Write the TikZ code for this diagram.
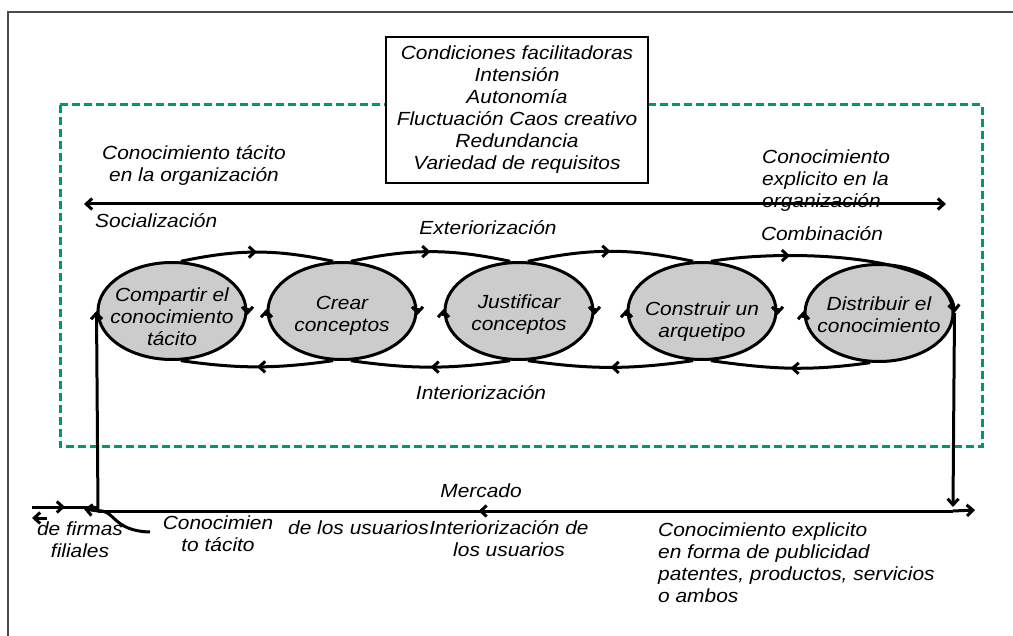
\documentclass[tikz,border=0pt]{standalone}
\usepackage{fontspec}
\setmainfont{Liberation Sans}[FakeStretch=1.1]
\usetikzlibrary{shapes.geometric,arrows.meta,decorations.markings}
\definecolor{orggreen}{RGB}{0,150,110}
\begin{document}
\begin{tikzpicture}[x=1pt,y=1pt,
    txt/.style={font=\fontsize{19}{22}\selectfont\itshape, inner sep=0pt},
    stage/.style={ellipse, draw, line width=3pt, fill=gray!40, minimum width=148pt, minimum height=97pt, inner sep=0pt},
    flow/.style={line width=3pt},
    tip/.style={-{Straight Barb[length=6pt,width=11pt]}},
    midtip/.style={postaction={decorate}, decoration={markings, mark=at position #1 with {\arrow{Straight Barb[length=6pt,width=11pt]}}}},
    midtip/.default=0.5]
    \useasboundingbox (0,0) rectangle (1013,-636);

    \draw[black!70, line width=1.8pt] (8,-636) -- (8,-12) -- (1013,-12);
    \draw[orggreen, line width=3pt, dash pattern=on 8pt off 4pt] (60,-105) rectangle (982,-447);

    \node[txt, draw, fill=white, line width=2.8pt, minimum width=262pt, minimum height=146pt, align=center] (cond) at (517,-110)
        {Condiciones facilitadoras\\Intensión\\Autonomía\\Fluctuación Caos creativo\\Redundancia\\Variedad de requisitos};

    \node[txt, align=center] (tacit) at (194,-165) {Conocimiento tácito\\en la organización};
    \node[txt, align=left, anchor=west] (expl) at (762,-181) {Conocimiento\\explicito en la\\organización};
    \node[txt, anchor=west] (soc) at (95,-221) {Socialización};
    \node[txt] (ext) at (488,-228) {Exteriorización};
    \node[txt] (comb) at (822,-234) {Combinación};
    \node[txt] (inter) at (481,-393) {Interiorización};

    \coordinate (axl) at (84,-204);
    \coordinate (axr) at (946,-204);
    \draw[flow, {Straight Barb[length=6pt,width=11pt]}-{Straight Barb[length=6pt,width=11pt]}] (axl) -- (axr);

    \node[stage] (e1) at (172,-311) {};
    \node[stage] (e2) at (342,-311) {};
    \node[stage] (e3) at (519,-311) {};
    \node[stage] (e4) at (702,-311) {};
    \node[stage] (e5) at (879,-313) {};

    \node[txt, align=center] (t1) at (172,-317) {Compartir el\\conocimiento\\tácito};
    \node[txt, align=center] (t2) at (342,-316) {Crear\\conceptos};
    \node[txt, align=center] (t3) at (519,-315) {Justificar\\conceptos};
    \node[txt, align=center] (t4) at (702,-322) {Construir un\\arquetipo};
    \node[txt, align=center] (t5) at (879,-315) {Distribuir el\\conocimiento};

    % turning arrows on the ellipses
    \draw[flow, tip] ([yshift=3pt]e1.east) -- ([yshift=-4pt]e1.east);
    \draw[flow, tip] ([yshift=3pt]e2.east) -- ([yshift=-4pt]e2.east);
    \draw[flow, tip] ([yshift=3pt]e3.east) -- ([yshift=-4pt]e3.east);
    \draw[flow, tip] ([yshift=3pt]e4.east) -- ([yshift=-4pt]e4.east);
    \draw[flow, tip] ([yshift=-5pt]e2.west) -- ([yshift=2pt]e2.west);
    \draw[flow, tip] ([yshift=-5pt]e3.west) -- ([yshift=2pt]e3.west);
    \draw[flow, tip] ([yshift=-5pt]e4.west) -- ([yshift=2pt]e4.west);
    \draw[flow, tip] ([yshift=-5pt]e5.west) -- ([yshift=2pt]e5.west);

    % spiral over and under
    \draw[flow, midtip] (e1.80) to[out=12,in=168] (e2.100);
    \draw[flow, midtip] (e2.80) to[out=12,in=168] (e3.100);
    \draw[flow, midtip] (e3.80) to[out=12,in=168] (e4.100);
    \draw[flow, midtip=0.3, tip] (e4.80) .. controls (790,-248) and (950,-255) .. (e5.east);
    \draw[flow, midtip] (e2.260) to[out=188,in=-8] (e1.280);
    \draw[flow, midtip] (e3.260) to[out=188,in=-8] (e2.280);
    \draw[flow, midtip] (e4.260) to[out=188,in=-8] (e3.280);
    \draw[flow, midtip] (e5.260) to[out=188,in=-8] (e4.280);

    % market line
    \coordinate (bl) at (98,-511);
    \coordinate (br) at (953,-507);
    \coordinate (bm) at (953,-511);
    \coordinate (bx) at (975,-510);
    \coordinate (bj) at (98,-507);
    \coordinate (bk) at (84,-509);
    \coordinate (far) at (32,-507);
    \coordinate (fa) at (47,-518);
    \coordinate (fb) at (32,-518);
    \coordinate (cv) at (150,-532);
    \draw[flow, tip] (bl) -- (e1.west);
    \draw[flow, tip] (e5.east) -- (br);
    \draw[flow, midtip=0.555] (bm) -- (bl);
    \draw[flow, tip] (bm) -- (bx);
    \draw[flow, midtip] (far) -- (bj);
    \draw[flow, tip] (bl) -- (bk);
    \draw[flow, tip] (fa) -- (fb);
    \draw[flow] (bl) .. controls (115,-509) and (112,-531) .. (cv);

    \node[txt] (merc) at (481,-491) {Mercado};
    \node[txt, align=center] (firm) at (80,-540) {de firmas\\filiales};
    \node[txt, align=center] (ctac) at (218,-534) {Conocimien\\to tácito};
    \node[txt, anchor=west] (usu) at (288,-528) {de los usuarios};
    \node[txt, align=center] (intu) at (509,-539) {Interiorización de\\los usuarios};
    \node[txt, align=left, anchor=west] (pub) at (658,-563) {Conocimiento explicito\\en forma de publicidad\\patentes, productos, servicios\\o ambos};
\end{tikzpicture}
\end{document}
